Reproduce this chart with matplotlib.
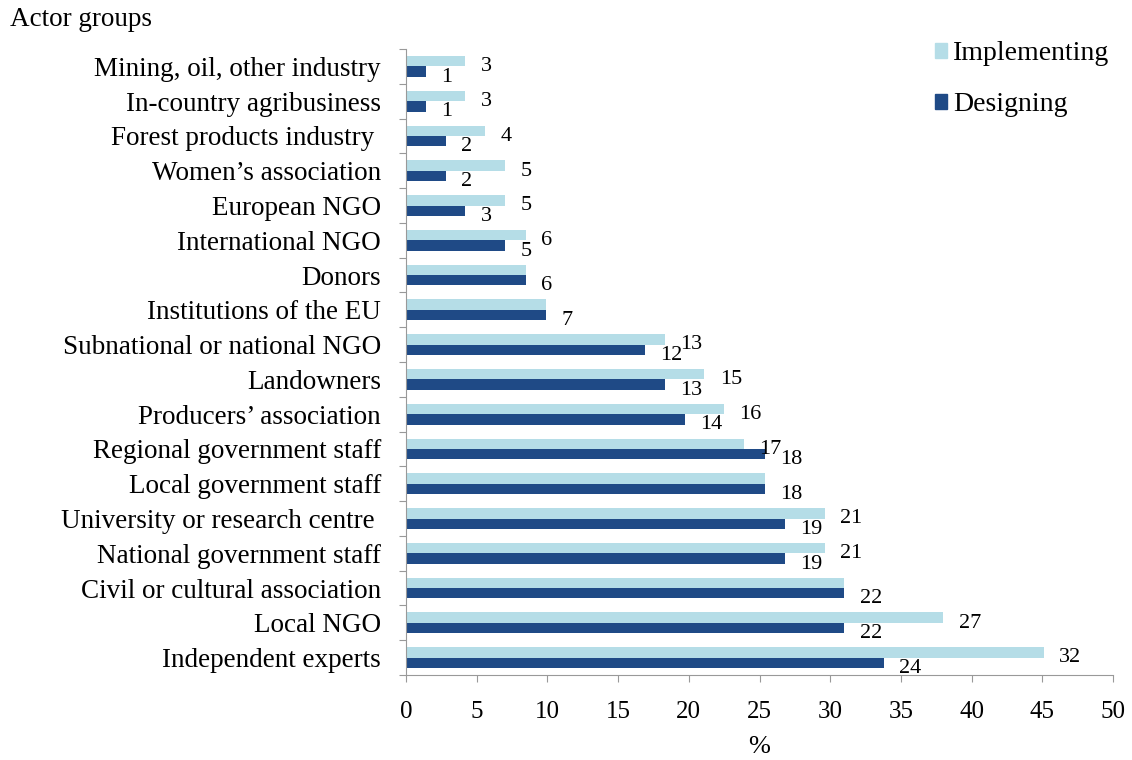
import numpy as np
import matplotlib.pyplot as plt
from matplotlib.patches import Patch

plt.rcParams['font.family'] = ['Liberation Serif', 'DejaVu Serif']

# categories from top to bottom
groups = ['Mining, oil, other industry', 'In-country agribusiness',
          'Forest products industry ', 'Women\u2019s association', 'European NGO',
          'International NGO', 'Donors', 'Institutions of the EU',
          'Subnational or national NGO', 'Landowners', 'Producers\u2019 association',
          'Regional government staff', 'Local government staff',
          'University or research centre ', 'National government staff',
          'Civil or cultural association', 'Local NGO', 'Independent experts']

# bar lengths (%)
impl_pct = [4.2, 4.2, 5.6, 7.0, 7.0, 8.5, 8.5, 9.9, 18.3, 21.1, 22.5, 23.9,
            25.4, 29.6, 29.6, 31.0, 38.0, 45.1]
design_pct = [1.4, 1.4, 2.8, 2.8, 4.2, 7.0, 8.5, 9.9, 16.9, 18.3, 19.7, 25.4,
              25.4, 26.8, 26.8, 31.0, 31.0, 33.8]

# counts printed next to the bars
impl_n = [3, 3, 4, 5, 5, 6, 6, 7, 13, 15, 16, 17, 18, 21, 21, 22, 27, 32]
design_n = [1, 1, 2, 2, 3, 5, 6, 7, 12, 13, 14, 18, 18, 19, 19, 22, 22, 24]

c_light = '#B5DDE7'
c_dark = '#1F4A86'

fig = plt.figure(figsize=(11.32, 7.6), dpi=100)
ax = fig.add_axes([406 / 1132, 1 - 675 / 760, (1113 - 406) / 1132, (675 - 49) / 760])

pos = np.arange(len(groups))
h = 0.3
ax.barh(pos - h / 2, impl_pct, height=h, color=c_light, label='Implementing')
ax.barh(pos + h / 2, design_pct, height=h, color=c_dark, label='Designing')

for i in range(len(groups)):
    if impl_n[i] != design_n[i]:
        ax.annotate(str(impl_n[i]), (impl_pct[i], pos[i] - h / 2),
                    xytext=(11, -4), textcoords='offset points',
                    ha='left', va='center', fontsize=16)
    ax.annotate(str(design_n[i]), (design_pct[i], pos[i] + h / 2),
                xytext=(11, -4), textcoords='offset points',
                ha='left', va='center', fontsize=16)

ax.set_ylim(len(groups) - 0.5, -0.5)
ax.set_xlim(0, 50)
ax.set_xticks(np.arange(0, 51, 5))
ax.tick_params(axis='x', labelsize=18, length=5, color='#999999', pad=14)

# tick marks between groups, labels at group centres
ax.set_yticks(np.arange(-0.5, len(groups), 1))
ax.set_yticklabels([])
ax.set_yticks(pos, minor=True)
ax.set_yticklabels(groups, minor=True, fontsize=19.5)
ax.tick_params(axis='y', which='major', length=5, color='#999999')
ax.tick_params(axis='y', which='minor', length=0, pad=18)

ax.spines['right'].set_color('none')
ax.spines['top'].set_color('none')
ax.spines['left'].set_color('#999999')
ax.spines['bottom'].set_color('#999999')

ax.set_xlabel('%', fontsize=19, labelpad=9)
fig.text(10 / 1132, 1 - 20 / 760, 'Actor groups', fontsize=19.5, ha='left', va='center')

handles = [Patch(color=c_light), Patch(color=c_dark)]
fig.legend(handles, ['Implementing', 'Designing'], loc='upper right',
           bbox_to_anchor=(1134 / 1132, 1 - 16 / 760), frameon=False, fontsize=20,
           handlelength=0.45, handleheight=0.45, handletextpad=0.2, labelspacing=0.95)

fig.savefig('out.png', dpi=100)
